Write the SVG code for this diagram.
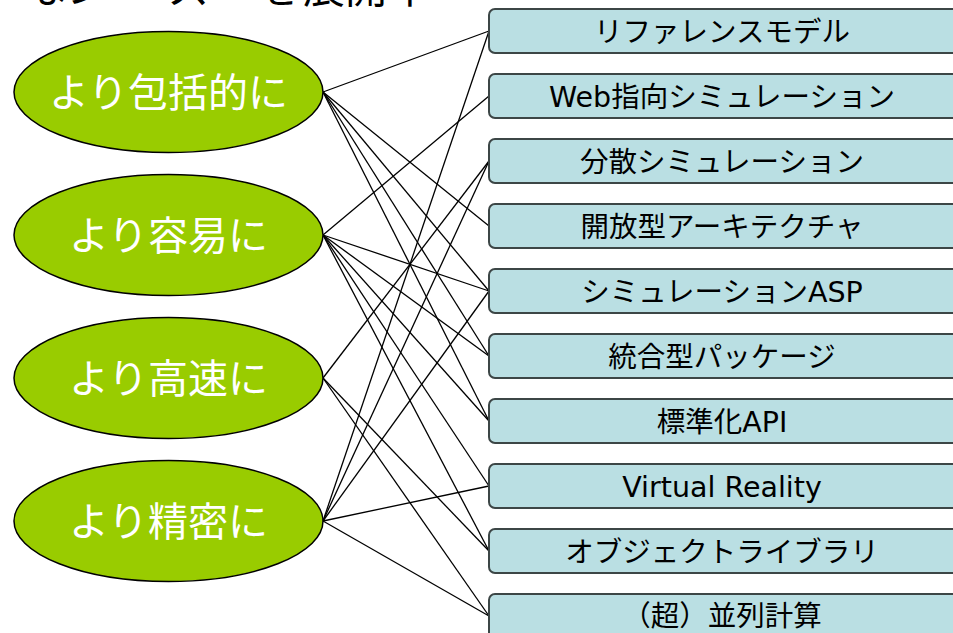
<svg xmlns="http://www.w3.org/2000/svg" width="953" height="633" viewBox="0 0 953 633">
<style>
.ell{fill:#99CC00;stroke:#000;stroke-width:1.5}
.et{font-family:"Noto Sans CJK JP","Noto Sans",sans-serif;font-size:40px;fill:#fff;text-anchor:middle}
.box{fill:#BADFE3;stroke:#3C4646;stroke-width:2}
.bt{font-family:"DejaVu Sans","Noto Sans CJK JP",sans-serif;font-size:28.5px;fill:#000;text-anchor:middle}
.ln{stroke:#000;stroke-width:1.3;fill:none}
.title{font-family:"Noto Sans CJK JP","Noto Sans",sans-serif;font-size:42px;fill:#000}
</style>
<rect width="953" height="633" fill="#fff"/>
<text class="title" y="3"><tspan x="26">な</tspan><tspan x="66">シ</tspan><tspan x="110">ー</tspan><tspan x="168">ズ</tspan><tspan x="258">を</tspan><tspan x="303">展</tspan><tspan x="345">開</tspan><tspan x="389">中</tspan></text>
<g id="connectors">
<line class="ln" x1="323" y1="92" x2="489" y2="31"/>
<line class="ln" x1="323" y1="92" x2="489" y2="226"/>
<line class="ln" x1="323" y1="92" x2="489" y2="291"/>
<line class="ln" x1="323" y1="92" x2="489" y2="356"/>
<line class="ln" x1="323" y1="92" x2="489" y2="421"/>
<line class="ln" x1="323" y1="235" x2="489" y2="96"/>
<line class="ln" x1="323" y1="235" x2="489" y2="291"/>
<line class="ln" x1="323" y1="235" x2="489" y2="356"/>
<line class="ln" x1="323" y1="235" x2="489" y2="421"/>
<line class="ln" x1="323" y1="235" x2="489" y2="486"/>
<line class="ln" x1="323" y1="235" x2="489" y2="551"/>
<line class="ln" x1="323" y1="378" x2="489" y2="161"/>
<line class="ln" x1="323" y1="378" x2="489" y2="551"/>
<line class="ln" x1="323" y1="378" x2="489" y2="616"/>
<line class="ln" x1="323" y1="521" x2="489" y2="31"/>
<line class="ln" x1="323" y1="521" x2="489" y2="161"/>
<line class="ln" x1="323" y1="521" x2="489" y2="291"/>
<line class="ln" x1="323" y1="521" x2="489" y2="486"/>
<line class="ln" x1="323" y1="521" x2="489" y2="616"/>
</g>
<g id="e1"><ellipse class="ell" cx="168.5" cy="92" rx="154.5" ry="60.5"/><text class="et" x="168.5" y="107">より包括的に</text></g>
<g id="e2"><ellipse class="ell" cx="168.5" cy="235" rx="154.5" ry="60.5"/><text class="et" x="168.5" y="250">より容易に</text></g>
<g id="e3"><ellipse class="ell" cx="168.5" cy="378" rx="154.5" ry="60.5"/><text class="et" x="168.5" y="393">より高速に</text></g>
<g id="e4"><ellipse class="ell" cx="168.5" cy="521" rx="154.5" ry="60.5"/><text class="et" x="168.5" y="536">より精密に</text></g>
<g id="b1"><rect class="box" x="489" y="9" width="490" height="44" rx="6"/><text class="bt" x="722" y="42">リファレンスモデル</text></g>
<g id="b2"><rect class="box" x="489" y="74" width="490" height="44" rx="6"/><text class="bt" x="722" y="107">Web指向シミュレーション</text></g>
<g id="b3"><rect class="box" x="489" y="139" width="490" height="44" rx="6"/><text class="bt" x="722" y="172">分散シミュレーション</text></g>
<g id="b4"><rect class="box" x="489" y="204" width="490" height="44" rx="6"/><text class="bt" x="722" y="237">開放型アーキテクチャ</text></g>
<g id="b5"><rect class="box" x="489" y="269" width="490" height="44" rx="6"/><text class="bt" x="722" y="302">シミュレーションASP</text></g>
<g id="b6"><rect class="box" x="489" y="334" width="490" height="44" rx="6"/><text class="bt" x="722" y="367">統合型パッケージ</text></g>
<g id="b7"><rect class="box" x="489" y="399" width="490" height="44" rx="6"/><text class="bt" x="722" y="432">標準化API</text></g>
<g id="b8"><rect class="box" x="489" y="464" width="490" height="44" rx="6"/><text class="bt" x="722" y="497">Virtual Reality</text></g>
<g id="b9"><rect class="box" x="489" y="529" width="490" height="44" rx="6"/><text class="bt" x="722" y="562">オブジェクトライブラリ</text></g>
<g id="b10"><rect class="box" x="489" y="594" width="490" height="44" rx="6"/><text class="bt" x="722" y="626">（超）並列計算</text></g>
</svg>
